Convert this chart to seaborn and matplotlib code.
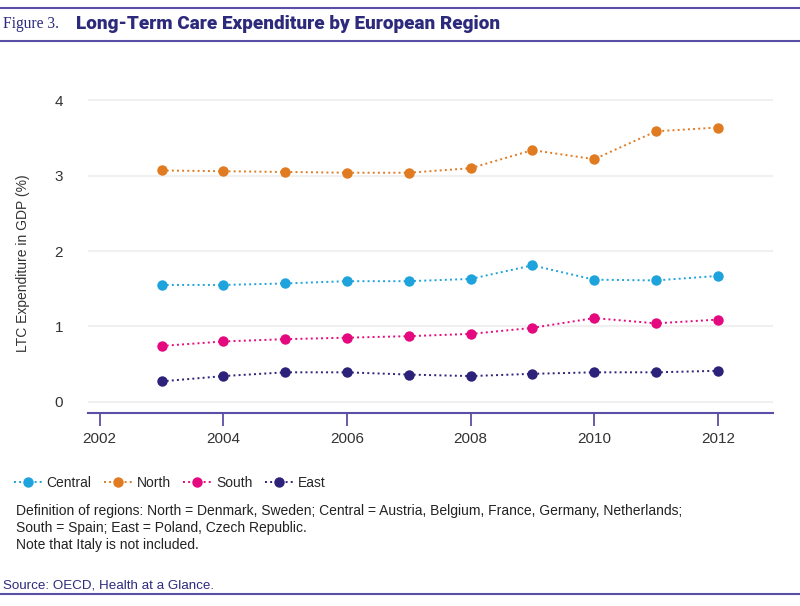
import seaborn as sns
import matplotlib.pyplot as plt
import pandas as pd

# Data
years = [2003, 2004, 2005, 2006, 2007, 2008, 2009, 2010, 2011, 2012]
central = [1.55, 1.55, 1.57, 1.60, 1.60, 1.63, 1.81, 1.62, 1.61, 1.67]
north = [3.07, 3.06, 3.05, 3.04, 3.04, 3.10, 3.34, 3.22, 3.59, 3.64]
south = [0.74, 0.80, 0.83, 0.85, 0.87, 0.90, 0.98, 1.11, 1.04, 1.09]
east = [0.27, 0.34, 0.39, 0.39, 0.36, 0.34, 0.37, 0.39, 0.39, 0.41]
regions = ["Central", "North", "South", "East"]
colors = ["#1fa3dd", "#e07b22", "#e5097f", "#2c2279"]

df = pd.concat([
    pd.DataFrame({"Year": years, "Value": vals, "Region": name})
    for name, vals in zip(regions, [central, north, south, east])
])

sns.set_theme(style="white")
plt.rcParams['font.family'] = ['Liberation Sans', 'DejaVu Sans']

purple = "#5a4fa6"
navy = "#2d2a7c"
grey = "#333333"

fig = plt.figure(figsize=(8, 6.06), dpi=100)
ax = fig.add_axes([0.11, 0.3185, 0.856, 0.522])

sns.lineplot(data=df, x="Year", y="Value", hue="Region", hue_order=regions,
             palette=colors, marker="o", markersize=7.5, markeredgewidth=0,
             linestyle=":", linewidth=1.4, ax=ax)

ax.set_xlim(2001.81, 2012.89)
ax.set_ylim(-0.15, 4.05)
ax.set_xticks([2002, 2004, 2006, 2008, 2010, 2012])
ax.set_yticks([0, 1, 2, 3, 4])
ax.yaxis.grid(True, color="#f0f0f0", linewidth=1.5)
ax.set_axisbelow(True)
for s in ["top", "right", "left"]:
    ax.spines[s].set_visible(False)
ax.spines["bottom"].set_color(purple)
ax.spines["bottom"].set_linewidth(1.5)
ax.tick_params(axis="x", bottom=True, direction="out", length=9, width=1.3,
               color=purple, labelsize=11, labelcolor=grey, pad=5)
ax.tick_params(axis="y", left=False, labelsize=11, labelcolor=grey, pad=12)
ax.set_xlabel("")
ax.set_ylabel("")
fig.text(23 / 800, 1 - 263 / 606, "LTC Expenditure in GDP (%)", fontsize=10, color=grey,
         rotation=90, va="center", ha="center")

handles, labels = ax.get_legend_handles_labels()
ax.legend(handles, labels, loc="center left", bbox_to_anchor=(14 / 800, 1 - 483 / 606),
          bbox_transform=fig.transFigure, ncol=4, frameon=False, fontsize=10,
          handlelength=2.0, handletextpad=0.35, columnspacing=0.9, borderaxespad=0,
          borderpad=0)

# header
fig.add_artist(plt.Line2D([0, 1], [1 - 7.5 / 606, 1 - 7.5 / 606], color=purple, linewidth=1.5))
fig.add_artist(plt.Line2D([0, 1], [1 - 41 / 606, 1 - 41 / 606], color=purple, linewidth=1.5))
fig.text(3 / 800, 1 - 24 / 606, "Figure 3.", fontsize=11.2, color=navy, va="center",
         family=["Liberation Serif", "DejaVu Serif"])
fig.text(76 / 800, 1 - 24 / 606, "Long-Term Care Expenditure by European Region", fontsize=13.6,
         color=navy, va="center", weight="black", family=["Roboto", "Inter", "DejaVu Sans"])

# notes
note = ("Definition of regions: North = Denmark, Sweden; Central = Austria, Belgium, France, Germany, Netherlands;\n"
        "South = Spain; East = Poland, Czech Republic.\n"
        "Note that Italy is not included.")
fig.text(16 / 800, 1 - 528 / 606, note, fontsize=10, color="#222222", va="center",
         linespacing=1.3)
fig.text(3 / 800, 1 - 585 / 606, "Source: OECD, Health at a Glance.", fontsize=9.6, color=navy,
         va="center")
fig.add_artist(plt.Line2D([0, 1], [1 - 594 / 606, 1 - 594 / 606], color=purple, linewidth=1.5))

fig.savefig("out.png", dpi=100)
